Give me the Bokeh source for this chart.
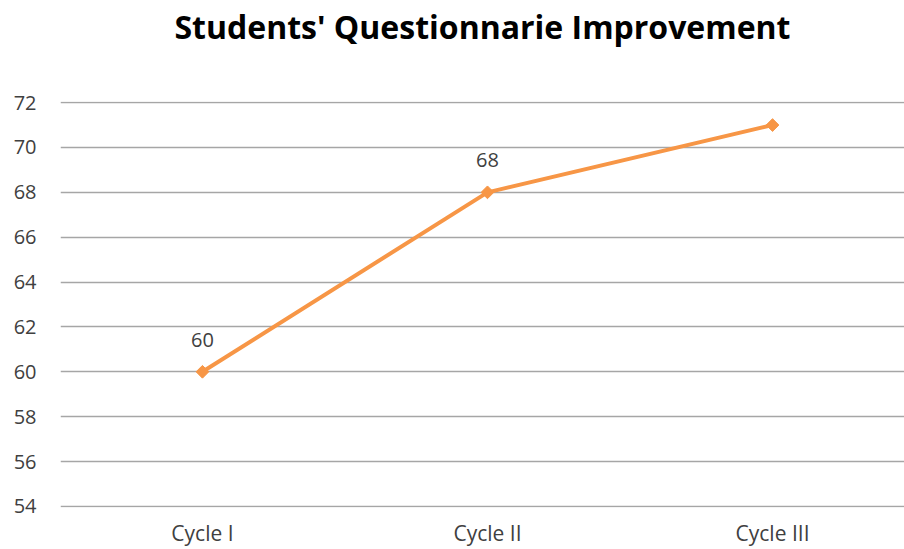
from bokeh.plotting import figure
from bokeh.models import Range1d, FixedTicker, ColumnDataSource, LabelSet, Title
from bokeh.core.properties import value
from bokeh.embed import file_html
from bokeh.resources import INLINE
import math

categories = ["Cycle I", "Cycle II", "Cycle III"]
scores = [60, 68, 71]
y_ticks = [54, 56, 58, 60, 62, 64, 66, 68, 70, 72]

xs = list(range(len(categories)))
src = ColumnDataSource(dict(x=xs, y=scores, lbl=[str(v) for v in scores]))

FONT = "Open Sans"

p = figure(width=904, height=549, output_backend="svg", toolbar_location=None, title=None,
           x_range=Range1d(-0.498, 2.463), y_range=Range1d(53.95, 72.05),
           min_border_left=60, min_border_right=0, min_border_bottom=42, min_border_top=101)
p.outline_line_color = None
p.background_fill_color = "white"
p.border_fill_color = "white"

# blank spacer panel between the frame and the title (nearest the frame)
spacer = Title(text=" ", standoff=49, text_font_size="1px")
p.add_layout(spacer, "above")

title = Title(text="Students' Questionnarie Improvement", align="center",
              vertical_align="bottom", standoff=4,
              text_font=FONT, text_font_size="32px", text_font_style="bold",
              text_color="#000000")
p.add_layout(title, "above")

# y axis
p.yaxis.ticker = FixedTicker(ticks=y_ticks)
p.yaxis.axis_line_color = None
p.yaxis.major_tick_line_color = None
p.yaxis.minor_tick_line_color = None
p.yaxis.major_tick_out = 0
p.yaxis.major_tick_in = 0
p.yaxis.minor_tick_out = 0
p.yaxis.major_label_standoff = 24
p.yaxis.major_label_text_font = FONT
p.yaxis.major_label_text_font_size = "20px"
p.yaxis.major_label_text_color = "#404040"

# x axis
p.xaxis.ticker = FixedTicker(ticks=xs)
p.xaxis.major_label_overrides = {i: c for i, c in zip(xs, categories)}
p.xaxis.axis_line_color = None
p.xaxis.major_tick_line_color = None
p.xaxis.minor_tick_line_color = None
p.xaxis.major_tick_out = 0
p.xaxis.major_tick_in = 0
p.xaxis.minor_tick_out = 0
p.xaxis.major_label_standoff = 11
p.xaxis.major_label_text_font = FONT
p.xaxis.major_label_text_font_size = "21px"
p.xaxis.major_label_text_color = "#404040"

p.xgrid.grid_line_color = None
p.ygrid.ticker = FixedTicker(ticks=y_ticks)
p.ygrid.grid_line_color = "#a6a6a6"
p.ygrid.grid_line_width = 1.3

p.line("x", "y", source=src, line_color="#F79646", line_width=4)
p.scatter("x", "y", source=src, marker="square", size=9, angle=math.pi / 4,
          fill_color="#F79646", line_color="#F79646", line_width=1)

labels = LabelSet(x="x", y="y", text="lbl", source=src, y_offset=32,
                  text_align="center", text_baseline="middle",
                  text_font=value(FONT), text_font_size=value("20px"),
                  text_color="#404040")
p.add_layout(labels)

open("out.html", "w").write(file_html(p, INLINE))
